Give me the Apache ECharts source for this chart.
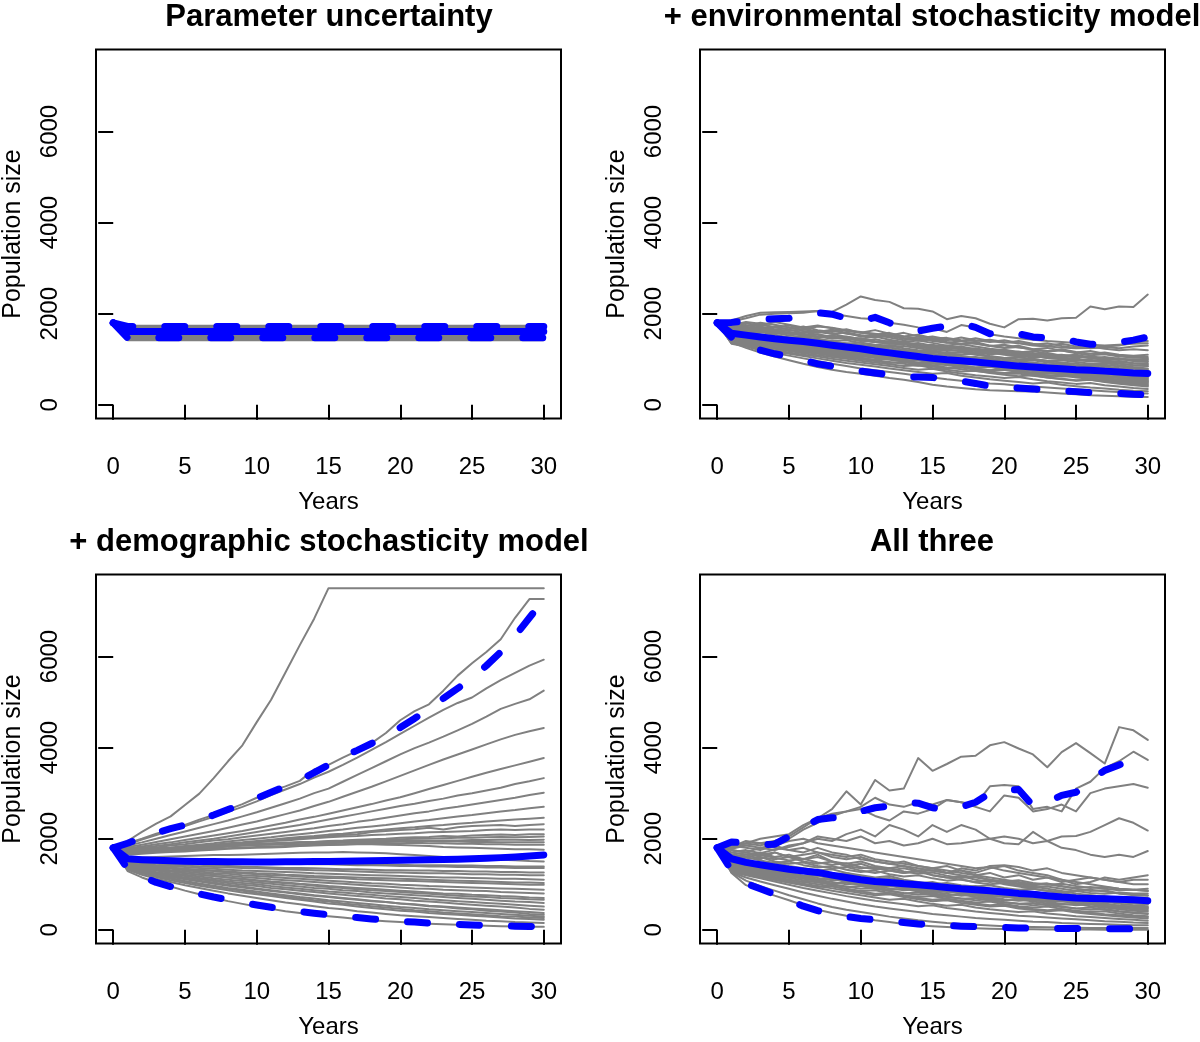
<!DOCTYPE html>
<html lang="en">
<head>
    <meta charset="UTF-8">
    <title>Population size projections</title>
    <style>
        html, body { margin: 0; padding: 0; background: #fff; }
    </style>
</head>
<body>

    <script src="https://cdn.jsdelivr.net/npm/echarts@6/dist/echarts.min.js"></script>

    <div id="main" style="width: 1200px;height:1042px;"></div>

    <script>
        // axes
        var years = [0, 1, 2, 3, 4, 5, 6, 7, 8, 9, 10, 11, 12, 13, 14, 15, 16, 17, 18, 19, 20,
                     21, 22, 23, 24, 25, 26, 27, 28, 29, 30];
        var xTicks = [0, 5, 10, 15, 20, 25, 30];
        var yTicks = [0, 2000, 4000, 6000];
        var panelTitles = ['Parameter uncertainty', '+ environmental stochasticity model',
                           '+ demographic stochasticity model', 'All three'];

        // panel 1: parameter uncertainty (flat after year 1)
        var paramStart = 1800;
        var paramLevels = [1420, 1440, 1460, 1480, 1500, 1520, 1540, 1560, 1580, 1600,
                           1620, 1640, 1660, 1680, 1700, 1720, 1735];
        var paramMean = 1610;
        var paramUpper = 1720;
        var paramLower = 1470;

        // panel 2: environmental stochasticity
        var envLines = [
            [1800, 1850, 1950, 2020, 2030, 2040, 2050, 2060, 2040, 2200, 2380, 2300, 2260, 2120, 2110, 2050, 1880, 1950, 1900, 1780, 1700, 1880, 1890, 1850, 1900, 1910, 2160, 2100, 2160, 2150, 2420],
            [1800, 1830, 1900, 1980, 2000, 2010, 2020, 2060, 2000, 1950, 1900, 1880, 1800, 1760, 1700, 1680, 1600, 1750, 1700, 1550, 1500, 1460, 1430, 1400, 1380, 1360, 1320, 1300, 1320, 1340, 1350],
            [1800, 1760, 1720, 1800, 1760, 1700, 1650, 1720, 1690, 1640, 1600, 1560, 1520, 1580, 1500, 1450, 1470, 1420, 1400, 1430, 1380, 1350, 1300, 1280, 1260, 1240, 1250, 1280, 1300, 1360, 1400],
            [1800, 1700, 1750, 1680, 1640, 1700, 1620, 1580, 1640, 1560, 1520, 1480, 1540, 1470, 1420, 1460, 1380, 1340, 1380, 1300, 1260, 1300, 1220, 1180, 1220, 1160, 1120, 1150, 1100, 1080, 1100],
            [1800, 1650, 1600, 1640, 1580, 1520, 1560, 1500, 1450, 1480, 1420, 1380, 1400, 1340, 1300, 1320, 1260, 1220, 1240, 1180, 1150, 1170, 1120, 1090, 1100, 1060, 1030, 1050, 1010, 990, 1000],
            [1800, 1620, 1700, 1660, 1720, 1650, 1580, 1620, 1560, 1490, 1450, 1500, 1430, 1380, 1410, 1360, 1300, 1330, 1280, 1230, 1200, 1150, 1180, 1120, 1080, 1100, 1040, 990, 1020, 970, 950],
            [1800, 1580, 1540, 1500, 1520, 1460, 1420, 1450, 1390, 1340, 1370, 1310, 1270, 1290, 1240, 1200, 1220, 1170, 1130, 1150, 1100, 1060, 1080, 1030, 1000, 1020, 970, 940, 960, 920, 900],
            [1800, 1600, 1560, 1600, 1540, 1480, 1500, 1440, 1400, 1420, 1360, 1320, 1300, 1330, 1270, 1230, 1180, 1200, 1150, 1110, 1130, 1080, 1040, 1060, 1010, 970, 990, 940, 900, 870, 850],
            [1800, 1560, 1520, 1480, 1440, 1460, 1400, 1360, 1380, 1320, 1280, 1240, 1260, 1210, 1170, 1190, 1140, 1100, 1120, 1070, 1030, 1050, 1000, 970, 980, 940, 900, 920, 870, 830, 800],
            [1800, 1540, 1580, 1520, 1460, 1420, 1380, 1400, 1340, 1300, 1260, 1280, 1220, 1180, 1140, 1160, 1110, 1070, 1030, 1050, 1000, 960, 980, 930, 900, 870, 890, 840, 810, 790, 760],
            [1800, 1520, 1480, 1440, 1400, 1360, 1320, 1340, 1290, 1250, 1210, 1230, 1170, 1130, 1090, 1110, 1060, 1020, 1040, 990, 950, 970, 920, 890, 870, 840, 860, 810, 780, 750, 720],
            [1800, 1500, 1460, 1420, 1440, 1380, 1330, 1290, 1310, 1250, 1200, 1160, 1180, 1120, 1080, 1050, 1070, 1010, 970, 990, 940, 900, 920, 870, 840, 810, 830, 780, 740, 710, 680],
            [1800, 1480, 1440, 1400, 1360, 1320, 1280, 1240, 1260, 1200, 1160, 1120, 1140, 1080, 1040, 1000, 1020, 970, 930, 950, 900, 860, 880, 830, 800, 770, 790, 740, 700, 670, 640],
            [1800, 1460, 1420, 1380, 1340, 1300, 1260, 1220, 1180, 1200, 1140, 1100, 1060, 1080, 1020, 980, 940, 960, 910, 870, 890, 840, 800, 820, 770, 740, 710, 730, 680, 640, 600],
            [1800, 1440, 1400, 1360, 1320, 1280, 1240, 1200, 1160, 1120, 1140, 1080, 1040, 1000, 1020, 960, 920, 880, 900, 850, 810, 830, 780, 740, 760, 710, 680, 650, 670, 610, 560],
            [1800, 1420, 1380, 1340, 1300, 1250, 1210, 1170, 1130, 1090, 1050, 1070, 1010, 970, 930, 950, 900, 860, 820, 840, 790, 750, 770, 720, 690, 660, 680, 630, 590, 550, 520],
            [1800, 1400, 1360, 1310, 1270, 1230, 1190, 1150, 1110, 1070, 1030, 990, 1010, 950, 910, 870, 890, 840, 800, 760, 780, 730, 690, 710, 660, 620, 640, 590, 550, 510, 480],
            [1800, 1380, 1340, 1300, 1250, 1200, 1160, 1120, 1080, 1040, 1000, 960, 920, 940, 880, 840, 800, 820, 770, 730, 700, 720, 670, 630, 650, 600, 570, 540, 500, 470, 440],
            [1800, 1370, 1320, 1270, 1230, 1180, 1130, 1090, 1050, 1010, 970, 930, 890, 850, 870, 810, 770, 730, 750, 700, 660, 630, 650, 600, 560, 530, 550, 500, 460, 430, 400],
            [1800, 1360, 1300, 1250, 1200, 1150, 1100, 1060, 1010, 970, 930, 890, 850, 810, 770, 790, 730, 690, 650, 620, 590, 610, 560, 520, 490, 460, 480, 430, 400, 370, 350],
            [1800, 1350, 1290, 1230, 1170, 1120, 1070, 1020, 970, 920, 880, 840, 800, 760, 720, 680, 700, 640, 600, 560, 530, 500, 470, 490, 440, 410, 380, 360, 330, 310, 300],
            [1800, 1370, 1250, 1150, 1060, 980, 900, 830, 770, 720, 680, 640, 590, 550, 500, 440, 400, 370, 340, 320, 310, 300, 290, 270, 250, 230, 210, 200, 190, 180, 170],
            [1800, 1340, 1280, 1200, 1140, 1080, 1020, 960, 900, 850, 800, 760, 720, 680, 640, 600, 560, 530, 500, 470, 450, 420, 400, 380, 360, 340, 320, 300, 280, 260, 250],
            [1800, 1750, 1820, 1780, 1700, 1740, 1680, 1600, 1650, 1580, 1500, 1540, 1480, 1420, 1460, 1400, 1360, 1400, 1340, 1290, 1320, 1260, 1220, 1250, 1190, 1150, 1180, 1120, 1080, 1060, 1050],
            [1800, 1720, 1790, 1740, 1820, 1760, 1700, 1740, 1680, 1620, 1580, 1640, 1560, 1500, 1540, 1460, 1420, 1480, 1420, 1380, 1420, 1360, 1320, 1350, 1290, 1250, 1280, 1230, 1200, 1220, 1200],
            [1800, 1680, 1640, 1700, 1620, 1560, 1600, 1540, 1480, 1500, 1440, 1380, 1340, 1360, 1300, 1250, 1270, 1220, 1180, 1150, 1170, 1110, 1070, 1030, 1050, 990, 950, 970, 910, 870, 850],
            [1800, 1560, 1600, 1540, 1480, 1430, 1450, 1390, 1340, 1290, 1310, 1250, 1200, 1160, 1180, 1120, 1070, 1030, 1050, 990, 950, 910, 930, 880, 840, 800, 820, 760, 720, 660, 620],
            [1800, 1500, 1520, 1460, 1410, 1360, 1310, 1330, 1270, 1220, 1180, 1130, 1150, 1090, 1040, 1000, 960, 980, 920, 870, 830, 850, 790, 750, 710, 730, 670, 630, 590, 550, 520],
            [1800, 1780, 1740, 1760, 1700, 1660, 1720, 1640, 1600, 1660, 1580, 1540, 1580, 1500, 1460, 1500, 1440, 1400, 1460, 1400, 1360, 1400, 1340, 1300, 1340, 1280, 1240, 1270, 1240, 1280, 1300],
            [1800, 1640, 1680, 1620, 1560, 1600, 1540, 1480, 1520, 1460, 1400, 1440, 1380, 1330, 1360, 1300, 1250, 1280, 1220, 1180, 1210, 1160, 1110, 1140, 1080, 1040, 1070, 1020, 990, 1000, 980],
            [1800, 1690, 1650, 1600, 1640, 1580, 1530, 1490, 1510, 1450, 1410, 1380, 1340, 1360, 1300, 1260, 1230, 1250, 1190, 1150, 1120, 1090, 1100, 1050, 1020, 990, 960, 980, 940, 910, 890],
            [1800, 1610, 1580, 1550, 1500, 1470, 1490, 1420, 1380, 1350, 1320, 1290, 1300, 1240, 1200, 1170, 1140, 1150, 1100, 1060, 1030, 1000, 1010, 960, 930, 900, 870, 880, 840, 810, 780],
            [1800, 1570, 1530, 1510, 1470, 1420, 1380, 1350, 1300, 1320, 1260, 1220, 1190, 1160, 1170, 1110, 1080, 1040, 1010, 1020, 970, 940, 910, 880, 890, 840, 810, 780, 760, 740, 700],
            [1800, 1530, 1500, 1460, 1420, 1390, 1340, 1300, 1270, 1230, 1250, 1190, 1150, 1110, 1080, 1090, 1040, 1000, 970, 940, 950, 900, 870, 840, 810, 820, 770, 740, 710, 690, 660],
            [1800, 1510, 1470, 1430, 1390, 1350, 1310, 1270, 1230, 1190, 1150, 1170, 1110, 1070, 1030, 1000, 1010, 960, 920, 890, 860, 870, 820, 790, 760, 730, 740, 700, 670, 640, 620],
            [1800, 1490, 1450, 1410, 1370, 1330, 1290, 1250, 1210, 1170, 1130, 1090, 1100, 1050, 1010, 970, 940, 950, 900, 860, 830, 800, 810, 760, 730, 700, 670, 680, 640, 600, 580],
            [1800, 1470, 1430, 1390, 1350, 1310, 1270, 1230, 1190, 1150, 1110, 1070, 1030, 1040, 990, 950, 910, 880, 890, 840, 800, 770, 740, 750, 700, 670, 640, 610, 620, 580, 540],
            [1800, 1450, 1410, 1370, 1330, 1290, 1250, 1210, 1170, 1130, 1090, 1050, 1010, 970, 980, 930, 890, 850, 820, 830, 780, 740, 710, 680, 690, 640, 610, 580, 550, 520, 490],
            [1800, 1430, 1390, 1350, 1310, 1270, 1230, 1190, 1150, 1110, 1070, 1030, 990, 950, 910, 920, 870, 830, 790, 760, 770, 720, 680, 650, 620, 630, 580, 550, 520, 490, 460],
            [1800, 1660, 1620, 1660, 1600, 1560, 1520, 1550, 1490, 1440, 1460, 1400, 1360, 1380, 1320, 1280, 1300, 1240, 1200, 1220, 1160, 1120, 1140, 1090, 1050, 1070, 1020, 990, 1010, 960, 940],
            [1800, 1720, 1680, 1720, 1660, 1620, 1660, 1600, 1560, 1590, 1530, 1490, 1510, 1450, 1410, 1430, 1370, 1330, 1350, 1290, 1250, 1270, 1210, 1170, 1190, 1130, 1090, 1110, 1060, 1040, 1020],
            [1800, 1390, 1350, 1300, 1260, 1220, 1180, 1140, 1100, 1060, 1020, 980, 940, 900, 860, 870, 820, 780, 740, 710, 680, 690, 640, 600, 570, 540, 550, 510, 480, 450, 420]
        ];
        var envMean = [1800, 1570, 1530, 1490, 1450, 1420, 1390, 1350, 1310, 1270, 1230, 1180, 1140, 1100, 1060, 1020,
                       990, 970, 940, 910, 880, 850, 830, 810, 790, 770, 760, 740, 720, 700, 690];
        var envUpper = [1800, 1810, 1840, 1870, 1890, 1900, 1960, 2020, 1990, 1900, 1840, 1920, 1800, 1700, 1620, 1680,
                        1730, 1790, 1700, 1560, 1620, 1560, 1490, 1470, 1460, 1380, 1330, 1320, 1370, 1420, 1490];
        var envLower = [1800, 1480, 1310, 1200, 1120, 1060, 980, 900, 850, 790, 740, 700, 660, 620, 610, 600,
                        560, 520, 470, 410, 380, 370, 350, 320, 310, 290, 270, 260, 250, 230, 220];

        // panel 3: demographic stochasticity
        var demoLines = [
            [1800, 1950, 2150, 2330, 2490, 2740, 2990, 3330, 3700, 4050, 4560, 5050, 5650, 6250, 6830, 7500, 7500, 7500, 7500, 7500, 7500, 7500, 7500, 7500, 7500, 7500, 7500, 7500, 7500, 7500, 7500],
            [1800, 1900, 2000, 2110, 2200, 2300, 2420, 2520, 2640, 2760, 2900, 3050, 3150, 3270, 3520, 3620, 3780, 3930, 4100, 4320, 4600, 4800, 4950, 5250, 5580, 5850, 6100, 6380, 6850, 7260, 7260],
            [1800, 1880, 1980, 2080, 2180, 2280, 2380, 2480, 2590, 2700, 2820, 2960, 3080, 3200, 3340, 3470, 3620, 3780, 3950, 4120, 4300, 4480, 4660, 4830, 4980, 5100, 5300, 5480, 5640, 5800, 5930],
            [1800, 1850, 1920, 2000, 2080, 2160, 2240, 2320, 2400, 2490, 2580, 2680, 2780, 2880, 3000, 3100, 3250, 3400, 3550, 3700, 3850, 3990, 4110, 4240, 4380, 4520, 4680, 4850, 4960, 5060, 5250],
            [1800, 1820, 1870, 1930, 1990, 2050, 2110, 2170, 2240, 2310, 2380, 2460, 2540, 2620, 2720, 2810, 2920, 3030, 3140, 3260, 3380, 3500, 3620, 3740, 3850, 3960, 4070, 4180, 4280, 4360, 4430],
            [1800, 1790, 1830, 1880, 1920, 1970, 2020, 2070, 2120, 2170, 2230, 2290, 2350, 2420, 2480, 2550, 2620, 2690, 2760, 2840, 2910, 3000, 3090, 3180, 3270, 3360, 3450, 3530, 3610, 3690, 3770],
            [1800, 1770, 1800, 1840, 1880, 1920, 1960, 2000, 2050, 2100, 2150, 2200, 2250, 2300, 2360, 2420, 2480, 2540, 2600, 2660, 2720, 2770, 2830, 2880, 2950, 3000, 3060, 3120, 3200, 3260, 3330],
            [1800, 1760, 1780, 1810, 1850, 1880, 1920, 1960, 1990, 2030, 2070, 2110, 2150, 2190, 2230, 2280, 2320, 2370, 2410, 2460, 2510, 2560, 2600, 2660, 2700, 2750, 2800, 2850, 2900, 2960, 3010],
            [1800, 1740, 1760, 1790, 1810, 1840, 1870, 1900, 1940, 1970, 2000, 2030, 2070, 2100, 2130, 2170, 2200, 2240, 2270, 2300, 2340, 2380, 2410, 2450, 2490, 2520, 2560, 2600, 2630, 2670, 2700],
            [1800, 1730, 1750, 1760, 1790, 1810, 1840, 1870, 1900, 1920, 1950, 1980, 2010, 2040, 2060, 2090, 2110, 2140, 2170, 2200, 2230, 2250, 2280, 2300, 2330, 2350, 2380, 2400, 2420, 2440, 2460],
            [1800, 1720, 1740, 1770, 1780, 1800, 1830, 1860, 1880, 1900, 1930, 1950, 1990, 2010, 2030, 2060, 2080, 2100, 2150, 2170, 2190, 2210, 2240, 2200, 2250, 2280, 2290, 2300, 2280, 2300, 2320],
            [1800, 1700, 1720, 1750, 1770, 1790, 1820, 1850, 1870, 1900, 1920, 1950, 1960, 1990, 2010, 2030, 2050, 2060, 2080, 2090, 2110, 2120, 2140, 2150, 2160, 2170, 2190, 2200, 2190, 2200, 2200],
            [1800, 1690, 1700, 1720, 1740, 1770, 1790, 1810, 1830, 1850, 1870, 1880, 1900, 1920, 1930, 1950, 1960, 1980, 1990, 2000, 2020, 2030, 2040, 2060, 2050, 2070, 2080, 2090, 2080, 2100, 2100],
            [1800, 1710, 1740, 1760, 1790, 1810, 1830, 1850, 1870, 1880, 1890, 1900, 1910, 1920, 1930, 1940, 1950, 1960, 1970, 1980, 1990, 2000, 2000, 2010, 2020, 2020, 2030, 2040, 2030, 2040, 2050],
            [1800, 1680, 1700, 1720, 1750, 1770, 1790, 1810, 1830, 1850, 1860, 1870, 1880, 1880, 1890, 1900, 1910, 1910, 1920, 1930, 1940, 1950, 1950, 1960, 1960, 1970, 1970, 1980, 1980, 1970, 1980],
            [1800, 1670, 1690, 1710, 1730, 1740, 1760, 1780, 1790, 1810, 1820, 1830, 1840, 1850, 1860, 1870, 1880, 1890, 1890, 1900, 1900, 1910, 1900, 1900, 1890, 1890, 1880, 1880, 1870, 1870, 1870],
            [1800, 1650, 1670, 1690, 1710, 1720, 1740, 1760, 1780, 1790, 1800, 1810, 1820, 1840, 1850, 1860, 1870, 1880, 1880, 1870, 1860, 1850, 1840, 1820, 1810, 1800, 1790, 1780, 1770, 1770, 1760],
            [1800, 1700, 1730, 1760, 1770, 1790, 1800, 1830, 1850, 1860, 1880, 1890, 1900, 1910, 1920, 1920, 1930, 1940, 1950, 1950, 1960, 1960, 1950, 1940, 1940, 1930, 1930, 1920, 1920, 1920, 1920],
            [1800, 1600, 1590, 1600, 1610, 1620, 1630, 1640, 1640, 1650, 1660, 1670, 1680, 1690, 1700, 1700, 1710, 1700, 1690, 1680, 1660, 1640, 1620, 1600, 1590, 1570, 1560, 1540, 1530, 1510, 1500],
            [1800, 1580, 1560, 1550, 1540, 1530, 1520, 1510, 1500, 1490, 1480, 1470, 1460, 1450, 1440, 1440, 1430, 1420, 1420, 1410, 1400, 1400, 1390, 1390, 1380, 1380, 1370, 1370, 1360, 1360, 1360],
            [1800, 1560, 1540, 1530, 1520, 1510, 1500, 1490, 1490, 1480, 1480, 1470, 1470, 1460, 1460, 1450, 1450, 1440, 1440, 1430, 1430, 1420, 1420, 1420, 1410, 1410, 1400, 1400, 1390, 1390, 1390],
            [1800, 1540, 1510, 1480, 1460, 1440, 1430, 1410, 1400, 1390, 1380, 1370, 1360, 1360, 1350, 1340, 1330, 1330, 1320, 1310, 1310, 1300, 1300, 1290, 1290, 1280, 1280, 1270, 1270, 1260, 1260],
            [1800, 1520, 1480, 1450, 1430, 1410, 1390, 1380, 1370, 1360, 1350, 1340, 1330, 1320, 1310, 1300, 1290, 1280, 1270, 1260, 1260, 1250, 1240, 1240, 1230, 1220, 1220, 1210, 1210, 1200, 1200],
            [1800, 1500, 1460, 1420, 1400, 1380, 1360, 1340, 1320, 1300, 1290, 1280, 1270, 1260, 1240, 1230, 1220, 1210, 1200, 1190, 1180, 1170, 1160, 1150, 1150, 1140, 1130, 1120, 1120, 1110, 1100],
            [1800, 1480, 1440, 1400, 1370, 1340, 1320, 1300, 1280, 1260, 1240, 1230, 1210, 1200, 1180, 1170, 1160, 1150, 1140, 1130, 1120, 1110, 1100, 1090, 1080, 1070, 1060, 1050, 1040, 1040, 1030],
            [1800, 1470, 1420, 1390, 1360, 1330, 1310, 1290, 1260, 1240, 1220, 1200, 1190, 1170, 1150, 1140, 1130, 1110, 1100, 1090, 1080, 1070, 1060, 1050, 1040, 1030, 1020, 1010, 1000, 990, 990],
            [1800, 1460, 1410, 1370, 1340, 1310, 1280, 1250, 1230, 1200, 1180, 1160, 1140, 1120, 1100, 1080, 1060, 1040, 1020, 1010, 990, 980, 960, 950, 940, 930, 920, 910, 900, 890, 880],
            [1800, 1450, 1400, 1350, 1310, 1280, 1250, 1220, 1190, 1160, 1140, 1110, 1090, 1070, 1050, 1030, 1010, 990, 970, 950, 930, 910, 900, 880, 870, 860, 850, 830, 820, 810, 800],
            [1800, 1430, 1370, 1320, 1280, 1240, 1210, 1180, 1150, 1120, 1090, 1060, 1040, 1010, 990, 960, 940, 920, 900, 880, 860, 840, 820, 800, 790, 770, 760, 740, 730, 710, 700],
            [1800, 1440, 1380, 1330, 1290, 1250, 1210, 1180, 1150, 1110, 1080, 1050, 1020, 1000, 970, 940, 920, 890, 870, 850, 830, 810, 790, 770, 750, 730, 720, 700, 690, 670, 660],
            [1800, 1420, 1350, 1300, 1250, 1210, 1170, 1130, 1100, 1070, 1040, 1010, 980, 950, 920, 900, 870, 850, 820, 800, 780, 760, 740, 720, 700, 680, 660, 640, 620, 610, 590],
            [1800, 1400, 1330, 1270, 1220, 1180, 1140, 1100, 1060, 1030, 1000, 960, 930, 900, 870, 840, 820, 790, 770, 740, 720, 700, 670, 650, 630, 610, 590, 570, 550, 530, 510],
            [1800, 1390, 1310, 1250, 1200, 1150, 1110, 1070, 1030, 990, 960, 920, 890, 860, 830, 800, 770, 740, 720, 690, 670, 640, 620, 600, 570, 550, 530, 510, 490, 460, 440],
            [1800, 1370, 1290, 1220, 1160, 1110, 1060, 1010, 970, 930, 890, 850, 820, 780, 750, 720, 690, 660, 630, 610, 580, 560, 530, 510, 490, 470, 450, 430, 410, 390, 370],
            [1800, 1380, 1300, 1230, 1180, 1130, 1080, 1040, 990, 950, 910, 870, 830, 800, 760, 730, 700, 670, 640, 610, 580, 550, 520, 500, 470, 450, 420, 400, 380, 350, 330],
            [1800, 1360, 1270, 1190, 1130, 1070, 1020, 970, 920, 880, 840, 800, 760, 720, 690, 650, 620, 590, 560, 530, 500, 480, 450, 430, 410, 390, 370, 350, 330, 310, 290],
            [1800, 1350, 1260, 1180, 1120, 1060, 1000, 950, 900, 860, 810, 770, 730, 690, 650, 620, 580, 550, 520, 490, 460, 430, 410, 380, 360, 340, 320, 300, 290, 270, 260],
            [1800, 1340, 1240, 1160, 1090, 1030, 970, 920, 870, 820, 780, 740, 700, 660, 620, 580, 550, 510, 480, 450, 420, 400, 370, 350, 330, 310, 290, 270, 250, 240, 220],
            [1800, 1320, 1210, 1120, 1050, 980, 920, 860, 800, 750, 700, 650, 600, 560, 520, 480, 450, 410, 380, 350, 320, 300, 280, 260, 240, 220, 200, 190, 170, 160, 150],
            [1800, 1290, 1150, 1040, 950, 860, 780, 700, 630, 570, 510, 460, 410, 370, 330, 300, 270, 240, 210, 190, 170, 150, 135, 120, 110, 100, 90, 80, 75, 70, 65]
        ];
        var demoMean = [1800, 1560, 1540, 1525, 1515, 1508, 1502, 1498, 1495, 1492, 1490, 1490, 1492, 1495, 1498, 1502,
                        1506, 1510, 1515, 1520, 1526, 1532, 1538, 1545, 1552, 1560, 1570, 1585, 1600, 1620, 1645];
        var demoUpper = [1800, 1900, 2020, 2130, 2220, 2300, 2410, 2520, 2640, 2760, 2890, 3020, 3150, 3290, 3450, 3620,
                         3800, 3940, 4090, 4250, 4440, 4640, 4860, 5080, 5300, 5520, 5800, 6100, 6450, 6850, 7250];
        var demoLower = [1800, 1340, 1170, 1040, 950, 870, 790, 720, 660, 600, 545, 495, 450, 405, 365, 330,
                         300, 270, 240, 215, 190, 170, 150, 135, 120, 108, 97, 88, 80, 74, 70];

        // panel 4: all three
        var allLines = [
            [1800, 1850, 1900, 1850, 1950, 2050, 2250, 2450, 2650, 3040, 2750, 3290, 3060, 3100, 3770, 3490, 3640, 3800, 3820, 4050, 4120, 3980, 3850, 3570, 3900, 4100, 3880, 3650, 4450, 4380, 4170],
            [1800, 1800, 1900, 2000, 2050, 2100, 2300, 2450, 2550, 2600, 2700, 2900, 2750, 2700, 2800, 2750, 2850, 2800, 2750, 3150, 3180, 3150, 2650, 2700, 2600, 3100, 3250, 3550, 3700, 3910, 3730],
            [1800, 1780, 1850, 1900, 1950, 2000, 2200, 2350, 2500, 2600, 2650, 2500, 2400, 2600, 2550, 2650, 2850, 2800, 2700, 2600, 2950, 2900, 2600, 2650, 2750, 2600, 3000, 3100, 3150, 3200, 3120],
            [1800, 1750, 1700, 1800, 1750, 1850, 1900, 2000, 1950, 2100, 2200, 2050, 2300, 2200, 2050, 2300, 2150, 2300, 2200, 2000, 1900, 1880, 2150, 1950, 2050, 2060, 2150, 2300, 2450, 2350, 2180],
            [1800, 1700, 1750, 1680, 1760, 1820, 1900, 2050, 2000, 1950, 2050, 1900, 1950, 1850, 1900, 2000, 1880, 1900, 1950, 2000, 2050, 2000, 1900, 1950, 1800, 1750, 1650, 1600, 1650, 1600, 1730],
            [1800, 1750, 1700, 1650, 1700, 1600, 1650, 1700, 1600, 1550, 1600, 1500, 1450, 1500, 1400, 1350, 1400, 1300, 1250, 1350, 1400, 1300, 1250, 1200, 1100, 1000, 1050, 1150, 1100, 1150, 1200],
            [1800, 1650, 1700, 1600, 1550, 1600, 1500, 1450, 1500, 1400, 1350, 1380, 1300, 1250, 1280, 1200, 1150, 1180, 1100, 1050, 1080, 1020, 980, 1000, 950, 920, 940, 900, 870, 880, 900],
            [1800, 1600, 1550, 1600, 1500, 1450, 1480, 1400, 1350, 1380, 1300, 1250, 1300, 1350, 1280, 1300, 1250, 1350, 1300, 1400, 1420, 1380, 1300, 1350, 1250, 1200, 1150, 1100, 1050, 1000, 1000],
            [1800, 1550, 1500, 1450, 1480, 1400, 1350, 1300, 1330, 1250, 1200, 1150, 1180, 1100, 1050, 1000, 1030, 980, 950, 980, 920, 880, 900, 860, 830, 850, 810, 790, 820, 800, 800],
            [1800, 1500, 1450, 1400, 1350, 1380, 1300, 1250, 1200, 1230, 1150, 1100, 1050, 1080, 1000, 950, 980, 920, 880, 850, 870, 820, 790, 800, 760, 740, 760, 720, 700, 710, 700],
            [1800, 1450, 1400, 1350, 1300, 1250, 1280, 1200, 1150, 1100, 1120, 1050, 1000, 960, 980, 920, 880, 850, 870, 820, 780, 750, 770, 720, 690, 660, 680, 640, 620, 610, 600],
            [1800, 1420, 1380, 1330, 1280, 1230, 1180, 1200, 1130, 1080, 1030, 1050, 990, 940, 900, 920, 860, 820, 790, 810, 760, 720, 690, 710, 660, 630, 600, 620, 570, 540, 520],
            [1800, 1400, 1350, 1300, 1250, 1200, 1150, 1100, 1120, 1050, 1000, 950, 970, 910, 870, 830, 850, 790, 750, 720, 740, 690, 650, 620, 640, 590, 560, 530, 500, 480, 460],
            [1800, 1380, 1320, 1270, 1220, 1170, 1120, 1070, 1020, 1040, 980, 930, 880, 900, 840, 800, 760, 780, 720, 680, 650, 670, 620, 580, 550, 570, 520, 490, 450, 420, 400],
            [1800, 1360, 1300, 1240, 1190, 1140, 1090, 1040, 990, 940, 960, 900, 850, 800, 820, 760, 720, 680, 700, 640, 600, 570, 590, 540, 500, 470, 490, 440, 400, 370, 350],
            [1800, 1340, 1280, 1220, 1160, 1100, 1050, 1000, 950, 900, 850, 870, 810, 760, 720, 740, 680, 640, 600, 620, 560, 520, 490, 510, 460, 420, 390, 410, 360, 320, 300],
            [1800, 1320, 1250, 1190, 1130, 1070, 1010, 960, 910, 860, 810, 760, 780, 720, 670, 630, 650, 590, 550, 510, 530, 470, 440, 410, 430, 380, 350, 320, 290, 270, 250],
            [1800, 1300, 1230, 1160, 1100, 1040, 980, 920, 860, 810, 760, 710, 660, 680, 620, 570, 530, 550, 490, 450, 420, 390, 410, 360, 330, 300, 280, 260, 240, 220, 200],
            [1800, 1280, 1200, 1130, 1060, 990, 920, 860, 800, 740, 690, 640, 600, 560, 520, 540, 480, 440, 400, 370, 340, 310, 290, 270, 250, 230, 210, 190, 180, 160, 150],
            [1800, 1270, 1150, 1060, 980, 900, 820, 750, 680, 620, 560, 510, 470, 430, 390, 350, 320, 290, 260, 240, 220, 200, 180, 170, 150, 140, 130, 120, 110, 100, 100],
            [1800, 1250, 980, 860, 750, 650, 540, 440, 370, 310, 260, 210, 170, 130, 100, 80, 60, 45, 35, 25, 20, 15, 12, 10, 8, 6, 5, 4, 3, 2, 2],
            [1800, 1260, 1080, 960, 860, 760, 670, 580, 500, 440, 390, 340, 290, 250, 210, 180, 150, 130, 110, 95, 80, 70, 60, 55, 50, 45, 40, 40, 40, 40, 40],
            [1800, 1600, 1650, 1550, 1700, 1600, 1550, 1650, 1500, 1400, 1450, 1350, 1300, 1250, 1300, 1200, 1150, 1100, 1050, 1100, 1000, 950, 900, 850, 800, 750, 700, 680, 620, 580, 560],
            [1800, 1900, 1850, 1800, 1850, 1750, 1800, 1700, 1650, 1600, 1650, 1550, 1500, 1450, 1400, 1350, 1300, 1250, 1200, 1150, 1100, 1050, 1000, 1020, 960, 900, 850, 870, 800, 760, 750],
            [1800, 1850, 1800, 1750, 1850, 1950, 2000, 1900, 1850, 1800, 1750, 1700, 1650, 1600, 1550, 1500, 1450, 1400, 1350, 1380, 1300, 1250, 1200, 1150, 1100, 1050, 1000, 950, 900, 880, 850],
            [1800, 1820, 1950, 1900, 1800, 1750, 1700, 1800, 1700, 1650, 1550, 1500, 1450, 1400, 1350, 1300, 1250, 1200, 1150, 1100, 1050, 1000, 950, 900, 850, 800, 760, 720, 690, 670, 650],
            [1800, 1700, 1650, 1700, 1600, 1650, 1550, 1600, 1500, 1450, 1500, 1400, 1350, 1400, 1300, 1350, 1250, 1300, 1200, 1250, 1150, 1200, 1100, 1150, 1050, 1100, 1150, 1100, 1050, 1100, 1100],
            [1800, 1480, 1430, 1460, 1380, 1320, 1350, 1270, 1220, 1250, 1170, 1120, 1140, 1070, 1020, 1050, 980, 940, 960, 900, 860, 880, 830, 790, 810, 760, 720, 740, 700, 660, 640],
            [1800, 1430, 1390, 1340, 1360, 1290, 1240, 1190, 1210, 1140, 1090, 1040, 1060, 990, 950, 910, 930, 870, 830, 800, 820, 770, 730, 700, 720, 670, 640, 610, 630, 590, 570],
            [1800, 1390, 1340, 1290, 1240, 1260, 1190, 1140, 1090, 1110, 1040, 990, 950, 970, 910, 870, 830, 850, 790, 750, 720, 740, 690, 650, 620, 640, 590, 560, 530, 510, 490],
            [1800, 1350, 1300, 1250, 1200, 1150, 1170, 1100, 1050, 1000, 1020, 960, 910, 870, 890, 830, 790, 750, 770, 710, 670, 640, 660, 610, 570, 540, 560, 510, 480, 450, 430],
            [1800, 1310, 1260, 1200, 1150, 1100, 1050, 1070, 1000, 950, 900, 920, 860, 810, 770, 790, 730, 690, 650, 670, 610, 570, 540, 560, 510, 470, 440, 460, 410, 380, 360],
            [1800, 1290, 1220, 1160, 1100, 1040, 990, 940, 960, 890, 840, 790, 810, 750, 700, 660, 680, 620, 580, 540, 560, 500, 460, 430, 450, 400, 370, 340, 320, 300, 280],
            [1800, 1560, 1600, 1520, 1470, 1500, 1420, 1370, 1400, 1320, 1270, 1300, 1220, 1170, 1200, 1130, 1080, 1110, 1040, 1000, 1030, 970, 930, 950, 900, 860, 880, 840, 800, 780, 760],
            [1800, 1650, 1600, 1650, 1580, 1520, 1560, 1480, 1430, 1460, 1380, 1330, 1360, 1280, 1230, 1260, 1190, 1140, 1170, 1100, 1060, 1090, 1030, 990, 1010, 960, 920, 940, 900, 880, 860],
            [1800, 1370, 1320, 1340, 1270, 1220, 1170, 1190, 1120, 1070, 1020, 1040, 980, 930, 890, 910, 850, 810, 770, 790, 730, 690, 660, 680, 630, 590, 560, 580, 530, 500, 480],
            [1800, 1470, 1420, 1370, 1320, 1340, 1270, 1220, 1170, 1190, 1120, 1070, 1020, 1040, 980, 940, 900, 920, 860, 820, 790, 810, 760, 720, 690, 710, 660, 630, 600, 590, 580]
        ];
        var allMean = [1800, 1560, 1480, 1430, 1380, 1330, 1290, 1260, 1200, 1150, 1100, 1060, 1040, 1010, 990, 960,
                       930, 900, 880, 860, 830, 800, 780, 750, 720, 700, 690, 680, 670, 660, 640];
        var allUpper = [1800, 1930, 1900, 1870, 1880, 2050, 2250, 2420, 2460, 2480, 2600, 2680, 2720, 2800, 2780, 2680,
                        2640, 2700, 2800, 3000, 3060, 3080, 2720, 2800, 2950, 3020, 3280, 3500, 3620, 3740, 3550];
        var allLower = [1800, 1300, 1020, 900, 780, 650, 520, 420, 340, 290, 250, 220, 190, 160, 130, 110,
                        95, 80, 70, 60, 50, 40, 36, 32, 30, 28, 26, 24, 22, 21, 20];

        // layout of the four R-style panels
        var boxes = [
            { left: 96, top: 49.5, cx: 329 },
            { left: 700, top: 49.5, cx: 932 },
            { left: 96, top: 574.5, cx: 329 },
            { left: 700, top: 574.5, cx: 932 }
        ];
        var boxW = 465, boxH = 369;
        var font = 'Liberation Sans, Arial, Helvetica, sans-serif';
        var gray = '#808080', blue = '#0000ff';

        function pairs(vals) {
            return vals.map(function (v, i) { return [years[i], v]; });
        }

        function flat(level) {
            // start value at year 0, constant from year 1 to 30
            return [[years[0], paramStart], [years[1], level], [years[30], level]];
        }

        function lineSeries(idx, data, color, width, dashed, z) {
            return {
                type: 'line',
                xAxisIndex: idx,
                yAxisIndex: idx,
                data: data,
                showSymbol: false,
                symbol: 'none',
                silent: true,
                z: z,
                lineStyle: {
                    color: color,
                    width: width,
                    type: dashed ? [20, 32] : 'solid',
                    cap: 'round',
                    join: 'round'
                }
            };
        }

        var grids = [], xAxes = [], yAxes = [], titles = [], series = [];

        boxes.forEach(function (b, i) {
            grids.push({
                left: b.left, top: b.top, width: boxW, height: boxH,
                show: true, borderColor: '#000', borderWidth: 2, backgroundColor: 'transparent'
            });
            xAxes.push({
                type: 'value', gridIndex: i, min: -1.2, max: 31.2,
                name: 'Years', nameLocation: 'middle', nameGap: 72,
                nameTextStyle: { fontFamily: font, fontSize: 24, color: '#000' },
                axisLine: { show: false },
                splitLine: { show: false },
                axisTick: { show: true, customValues: xTicks, length: 15, lineStyle: { color: '#000', width: 2 } },
                axisLabel: { customValues: xTicks, margin: 37, fontFamily: font, fontSize: 24, color: '#000' }
            });
            yAxes.push({
                type: 'value', gridIndex: i, min: -300, max: 7800,
                name: 'Population size', nameLocation: 'middle', nameGap: 70,
                nameTextStyle: { fontFamily: font, fontSize: 25, color: '#000' },
                axisLine: { show: false },
                splitLine: { show: false },
                axisTick: { show: true, customValues: yTicks, length: 15, lineStyle: { color: '#000', width: 2 } },
                axisLabel: {
                    customValues: yTicks, rotate: 90, margin: 34, fontFamily: font, fontSize: 24, color: '#000',
                    formatter: function (v) { return String(v); }
                }
            });
            titles.push({
                text: panelTitles[i],
                left: b.cx, top: b.top - 48, textAlign: 'center', padding: 0,
                textStyle: { fontFamily: font, fontSize: 31, fontWeight: 'bold', color: '#000' }
            });
        });

        // panel 1
        paramLevels.forEach(function (lv) {
            series.push(lineSeries(0, flat(lv), gray, 2, false, 2));
        });
        series.push(lineSeries(0, flat(paramMean), blue, 7, false, 3));
        series.push(lineSeries(0, flat(paramUpper), blue, 7, true, 4));
        series.push(lineSeries(0, flat(paramLower), blue, 7, true, 4));

        // panels 2-4
        var panels = [
            { idx: 1, lines: envLines, mean: envMean, upper: envUpper, lower: envLower },
            { idx: 2, lines: demoLines, mean: demoMean, upper: demoUpper, lower: demoLower },
            { idx: 3, lines: allLines, mean: allMean, upper: allUpper, lower: allLower }
        ];
        panels.forEach(function (p) {
            p.lines.forEach(function (ln) {
                series.push(lineSeries(p.idx, pairs(ln), gray, 2, false, 2));
            });
            series.push(lineSeries(p.idx, pairs(p.mean), blue, 7, false, 3));
            series.push(lineSeries(p.idx, pairs(p.upper), blue, 7, true, 4));
            series.push(lineSeries(p.idx, pairs(p.lower), blue, 7, true, 4));
        });

        var myChart = echarts.init(document.getElementById('main'));
        myChart.setOption({
            animation: false,
            backgroundColor: '#fff',
            title: titles,
            grid: grids,
            xAxis: xAxes,
            yAxis: yAxes,
            series: series
        });
    </script>

</body>
</html>
